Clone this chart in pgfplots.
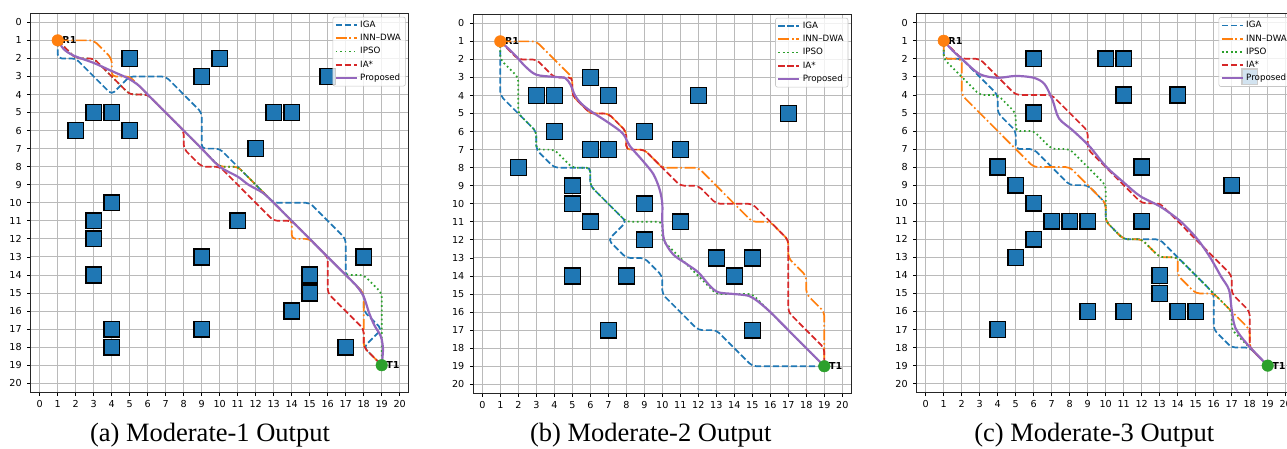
\documentclass[border=0pt]{standalone}
\usepackage{fontspec}
\setmainfont{Liberation Serif}
\newfontfamily\dejavu{DejaVu Sans}
\usepackage{pgfplots}
\pgfplotsset{compat=1.18}
\definecolor{tabblue}{HTML}{1F77B4}
\definecolor{taborange}{HTML}{FF7F0E}
\definecolor{tabgreen}{HTML}{2CA02C}
\definecolor{tabred}{HTML}{D62728}
\definecolor{tabpurple}{HTML}{9467BD}
\pgfplotsset{
  gridmap/.style={
    set layers,
    scale only axis, width=378pt, height=379pt,
    xmin=-0.5, xmax=20.5, ymin=-0.5, ymax=20.5, y dir=reverse,
    xtick={0,...,20}, ytick={0,...,20},
    grid=major, major grid style={draw=black!27, line width=0.9pt},
    tick style={black, line width=0.8pt}, major tick length=3.5pt, tick align=outside,
    xtick pos=lower, xticklabel pos=lower, ytick pos=left,
    axis line style={black!85, line width=1pt},
    tick label style={font=\dejavu\fontsize{9.6}{10}\selectfont},
    yticklabel style={xshift=-2pt},
    xticklabel style={yshift=-1pt},
    /pgf/number format/assume math mode=true,
    legend cell align=left,
    legend style={at={(1,1)}, anchor=north east, xshift=-3pt, yshift=-3.5pt,
      font=\dejavu\fontsize{8.7}{9}\selectfont,
      draw=black!22, line width=0.6pt, rounded corners=2pt,
      fill=white, fill opacity=0.8, text opacity=1,
      inner xsep=2pt, inner ysep=1.5pt,
      nodes={inner xsep=2.5pt, inner ysep=2.6pt, text height=6.4pt, text depth=1.6pt}},
    legend image code/.code={\draw[#1, line width=1.8pt] (0pt,0pt) -- (21pt,0pt);},
  },
  obst/.style={only marks, mark=square*, mark size=7.9pt,
    mark options={fill=tabblue, draw=black, line width=1.4pt}, on layer=axis background},
  iga/.style={tabblue, line width=1.7pt, dash pattern=on 6.3pt off 2.7pt, rounded corners=4pt},
  inn/.style={taborange, line width=1.7pt, dash pattern=on 10.9pt off 2.7pt on 1.7pt off 2.7pt, rounded corners=4pt},
  ipso/.style={tabgreen, line width=1.7pt, dash pattern=on 1.7pt off 2.8pt, rounded corners=4pt},
  iastar/.style={tabred, line width=1.7pt, dash pattern=on 6.3pt off 2.7pt, rounded corners=4pt},
  prop/.style={tabpurple, line width=2.2pt, smooth, tension=0.5},
}
\newcommand{\startgoal}{%
  \addplot[only marks, mark=*, mark size=5.8pt, color=taborange, forget plot] coordinates {(1,1)};
  \addplot[only marks, mark=*, mark size=5.8pt, color=tabgreen, forget plot] coordinates {(19,19)};
  \node[anchor=west, inner sep=0pt, font=\dejavu\bfseries\fontsize{9.6}{10}\selectfont] at (axis cs:1.25,1) {R1};
  \node[anchor=west, inner sep=0pt, font=\dejavu\bfseries\fontsize{9.6}{10}\selectfont] at (axis cs:19.25,19) {T1};
}
\begin{document}
\begin{tikzpicture}
% ---------------- (a) ----------------
\begin{axis}[gridmap, anchor=north west, at={(30.7pt,435.7pt)}]
\addplot[obst, forget plot] coordinates {(5,2)(10,2)(9,3)(16,3)(3,5)(4,5)(13,5)(14,5)(2,6)(5,6)(12,7)(4,10)(11,11)(3,11)(3,12)(9,13)(18,13)(3,14)(15,14)(15,15)(14,16)(4,17)(4,18)(9,17)(17,18)};
\startgoal
\addplot[iga] coordinates {(1,1)(1,2)(2,2)(4,4)(5,3)(7,3)(9,5)(9,7)(10,7)(11,8)(13,10)(15,10)(17,12)(17,14)(18,15)(18,16)(19,17)(18,18)(19,19)};
\addlegendentry{IGA}
\addplot[inn] coordinates {(1,1)(3,1)(4,2)(4,3)(5,3)(9,7)(10,8)(11,8)(13,10)(14,11)(14,12)(15,12)(17,14)(18,15)(18,18)(19,19)};
\addlegendentry{INN–DWA}
\addplot[ipso] coordinates {(1,1)(2,2)(3,2)(4,3)(5,4)(6,4)(9,7)(10,8)(11,8)(13,10)(17,14)(18,14)(19,15)(19,19)};
\addlegendentry{IPSO}
\addplot[iastar] coordinates {(1,1)(2,2)(3,2)(4,3)(5,4)(6,4)(8,6)(8,7)(9,8)(10,8)(12,10)(13,11)(14,11)(16,13)(16,15)(18,17)(18,18)(19,19)};
\addlegendentry{IA*}
\addplot[prop] coordinates {(1,1)(1.35,1.5)(1.9,1.85)(3,2.25)(4,2.7)(4.9,3.1)(5.5,3.5)(6,4)(7,5)(8,6)(9,7)(10,8)(11,8.55)(11.6,9)(12.4,9.45)(13,10)(14,11)(15,12)(16,13)(17,14)(17.6,14.6)(18,15.2)(18.3,16.1)(18.6,16.8)(18.95,17.4)(19.07,18.1)(19,19)};
\addlegendentry{Proposed}
\end{axis}
% ---------------- (b) ----------------
\begin{axis}[gridmap, anchor=north west, at={(473.3pt,434.7pt)}]
\addplot[obst, forget plot] coordinates {(6,3)(3,4)(4,4)(7,4)(12,4)(17,5)(4,6)(9,6)(6,7)(7,7)(11,7)(2,8)(5,9)(5,10)(9,10)(6,11)(11,11)(9,12)(13,13)(15,13)(14,14)(5,14)(8,14)(7,17)(15,17)};
\startgoal
\addplot[iga] coordinates {(1,1)(1,4)(3,6)(3,7)(4,8)(6,8)(6,9)(8,11)(7,12)(8,13)(9,13)(10,14)(10,15)(12,17)(13,17)(15,19)(19,19)};
\addlegendentry{IGA}
\addplot[inn] coordinates {(1,1)(3,1)(5,3)(5,4)(6,5)(7,5)(8,6)(8,7)(9,7)(10,8)(12,8)(15,11)(16,11)(17,12)(17,13)(18,14)(18,15)(19,16)(19,19)};
\addlegendentry{INN–DWA}
\addplot[ipso] coordinates {(1,1)(1,2)(2,3)(2,5)(3,6)(3,7)(4,7)(5,8)(6,8)(6,9)(8,11)(10,11)(10,12)(11,13)(12,14)(13,15)(15,15)(16,16)(19,19)};
\addlegendentry{IPSO}
\addplot[iastar] coordinates {(1,1)(2,2)(3,2)(4,3)(5,3)(5,4)(6,5)(7,5)(8,6)(8,7)(9,7)(10,8)(11,9)(12,9)(13,10)(15,10)(17,12)(17,16)(19,18)(19,19)};
\addlegendentry{IA*}
\addplot[prop] coordinates {(1,1)(1.5,1.45)(1.9,1.85)(2.4,2.4)(3,2.85)(4,2.97)(4.6,3.03)(4.9,3.4)(5.15,4.0)(5.5,4.45)(6,4.85)(7,5.5)(7.8,6.1)(8.2,6.8)(8.9,7.6)(9.5,8.35)(9.85,9.2)(10,10)(10,11)(10.1,12)(10.6,12.8)(11.3,13.3)(12,13.8)(12.6,14.5)(13.1,14.9)(14,15)(14.8,15.1)(15.3,15.4)(16,16)(17,17)(18,18)(19,19)};
\addlegendentry{Proposed}
\end{axis}
% ---------------- (c) ----------------
\begin{axis}[gridmap, anchor=north west, at={(916.7pt,435.3pt)}]
\addplot[obst, forget plot] coordinates {(6,2)(10,2)(11,2)(11,4)(14,4)(6,5)(18,3)(4,8)(12,8)(17,9)(5,9)(6,10)(7,11)(8,11)(9,11)(12,11)(6,12)(5,13)(13,14)(13,15)(14,16)(15,16)(9,16)(11,16)(4,17)};
\startgoal
\addplot[iga] coordinates {(1,1)(1,2)(2,2)(4,4)(4,5)(5,6)(5,7)(6,7)(8,9)(9,9)(10,10)(10,11)(11,12)(13,12)(16,15)(16,17)(17,18)(18,18)(19,19)};
\addlegendentry{IGA}
\addplot[inn] coordinates {(1,1)(1,2)(2,2)(2,4)(6,8)(8,8)(10,10)(10,11)(11,12)(12,12)(13,13)(14,13)(14,14)(15,15)(16,15)(18,17)(18,18)(19,19)};
\addlegendentry{INN–DWA}
\addplot[ipso] coordinates {(1,1)(1,2)(3,4)(4,4)(5,5)(5,6)(6,6)(7,7)(8,7)(10,9)(10,10)(10,11)(11,12)(12,12)(13,13)(14,13)(16,15)(17,16)(17,17)(18,18)(19,19)};
\addlegendentry{IPSO}
\addplot[iastar] coordinates {(1,1)(2,2)(3,2)(4,3)(5,4)(7,4)(9,6)(9,7)(12,10)(13,10)(17,14)(17,15)(18,16)(18,18)(19,19)};
\addlegendentry{IA*}
\addplot[prop] coordinates {(1,1)(1.5,1.55)(2,2)(3,2.85)(4,3.05)(5,2.95)(6,3.05)(6.6,3.4)(7.05,4.3)(7.4,5.3)(8.15,5.95)(9.1,6.85)(10,7.95)(11,8.85)(11.9,9.6)(13.05,10.2)(14.15,11.0)(15.1,12.0)(15.8,13.0)(16.4,14.05)(16.85,14.8)(17,15.9)(17.2,16.9)(17.85,17.8)(19,19)};
\addlegendentry{Proposed}
\end{axis}
% captions
\node[anchor=base, inner sep=0pt, font=\fontsize{26.5}{30}\selectfont] at (210pt,7pt) {(a) Moderate-1 Output};
\node[anchor=base, inner sep=0pt, font=\fontsize{26.5}{30}\selectfont] at (650.8pt,7pt) {(b) Moderate-2 Output};
\node[anchor=base, inner sep=0pt, font=\fontsize{26.5}{30}\selectfont] at (1094.2pt,7pt) {(c) Moderate-3 Output};
\pgfresetboundingbox
\useasboundingbox (0pt,0pt) rectangle (1287pt,449pt);
\end{tikzpicture}
\end{document}
